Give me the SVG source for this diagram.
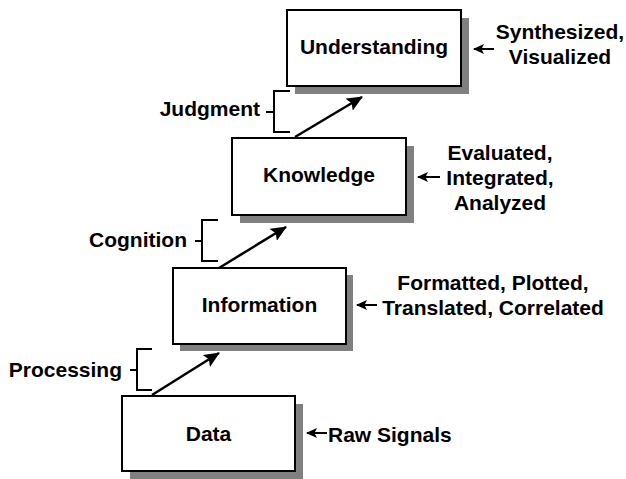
<svg xmlns="http://www.w3.org/2000/svg" width="626" height="479" viewBox="0 0 626 479">
  <style>
    .box { fill: #ffffff; stroke: #000000; stroke-width: 2; }
    .shadow { fill: #808080; stroke: none; }
    .t { font-family: "Liberation Sans", Arial, Helvetica, sans-serif; font-weight: bold; font-size: 21px; fill: #000000; }
    .mid { text-anchor: middle; }
    .end { text-anchor: end; }
    .br { fill: none; stroke: #000000; stroke-width: 2; }
    .conn { fill: none; stroke: #000000; stroke-width: 2.5; marker-end: url(#bigArrow); }
    .small { fill: none; stroke: #000000; stroke-width: 2; marker-end: url(#smallArrow); }
  </style>
  <defs>
    <marker id="bigArrow" viewBox="0 0 16 14" refX="15" refY="7" markerWidth="16" markerHeight="14" markerUnits="userSpaceOnUse" orient="auto">
      <path d="M0,0 L16,7 L0,14 L3,7 z" fill="#000000"/>
    </marker>
    <marker id="smallArrow" viewBox="0 0 11 10" refX="10" refY="5" markerWidth="11" markerHeight="10" markerUnits="userSpaceOnUse" orient="auto">
      <path d="M0,0 L11,5 L0,10 L2.5,5 z" fill="#000000"/>
    </marker>
  </defs>

  <!-- Nodes -->
  <g id="understanding">
    <rect class="shadow" x="295" y="18" width="174" height="76"/>
    <rect class="box" x="287" y="10" width="174" height="76"/>
    <text class="t mid" x="374" y="54">Understanding</text>
  </g>
  <g id="knowledge">
    <rect class="shadow" x="240" y="146" width="174" height="77"/>
    <rect class="box" x="232" y="138" width="174" height="77"/>
    <text class="t mid" x="319" y="182">Knowledge</text>
  </g>
  <g id="information">
    <rect class="shadow" x="180" y="275" width="173" height="76"/>
    <rect class="box" x="173" y="268" width="173" height="76"/>
    <text class="t mid" x="259.5" y="312">Information</text>
  </g>
  <g id="data">
    <rect class="shadow" x="130" y="404" width="173" height="75"/>
    <rect class="box" x="122" y="396" width="173" height="75"/>
    <text class="t mid" x="208.5" y="441">Data</text>
  </g>

  <!-- Side descriptions -->
  <g id="desc-understanding">
    <text class="t mid" x="560" y="39">Synthesized,</text>
    <text class="t mid" x="560" y="64">Visualized</text>
  </g>
  <g id="desc-knowledge">
    <text class="t mid" x="500" y="160">Evaluated,</text>
    <text class="t mid" x="500" y="185">Integrated,</text>
    <text class="t mid" x="500" y="210">Analyzed</text>
  </g>
  <g id="desc-information">
    <text class="t mid" x="493" y="290">Formatted, Plotted,</text>
    <text class="t mid" x="493" y="315">Translated, Correlated</text>
  </g>
  <g id="desc-data">
    <text class="t" x="328" y="442">Raw Signals</text>
  </g>

  <!-- Process labels with brackets -->
  <g id="label-judgment">
    <text class="t end" x="260" y="116">Judgment</text>
    <path class="br" d="M290,91 H274 V132 H290 M266,112 H274"/>
  </g>
  <g id="label-cognition">
    <text class="t end" x="187" y="247">Cognition</text>
    <path class="br" d="M218,220 H202 V261 H218 M195,241 H202"/>
  </g>
  <g id="label-processing">
    <text class="t end" x="122" y="377">Processing</text>
    <path class="br" d="M152,349 H137 V390 H152 M130,370 H137"/>
  </g>

  <!-- Connectors -->
  <g id="connectors">
    <line class="conn" x1="152" y1="395" x2="219" y2="353"/>
    <line class="conn" x1="219" y1="268" x2="286" y2="227"/>
    <line class="conn" x1="295" y1="137" x2="362" y2="97"/>
    <line class="small" x1="494" y1="49" x2="474" y2="49"/>
    <line class="small" x1="440" y1="177" x2="418" y2="177"/>
    <line class="small" x1="377" y1="305" x2="357" y2="305"/>
    <line class="small" x1="327" y1="433" x2="307" y2="433"/>
  </g>
</svg>
